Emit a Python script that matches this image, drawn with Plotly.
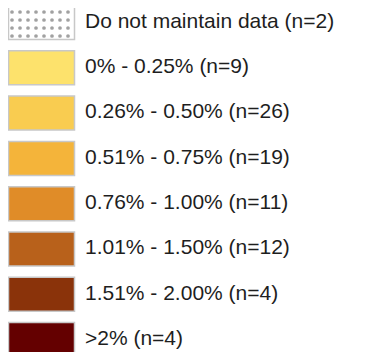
import plotly.graph_objects as go

labels = [
    "Do not maintain data (n=2)",
    "0% - 0.25% (n=9)",
    "0.26% - 0.50% (n=26)",
    "0.51% - 0.75% (n=19)",
    "0.76% - 1.00% (n=11)",
    "1.01% - 1.50% (n=12)",
    "1.51% - 2.00% (n=4)",
    ">2% (n=4)",
]
colors = ["#FFFFFF", "#FDE26C", "#F9CC50", "#F4B43A", "#E08C28", "#B8611B", "#8A330A", "#640000"]
rows = list(range(len(labels)))
swatch_len = [1] * len(labels)
label_x = [1.159] * len(labels)

fig = go.Figure()
fig.add_trace(go.Bar(
    x=swatch_len, y=rows, orientation="h", width=0.75, cliponaxis=False,
    marker=dict(
        color=colors,
        line=dict(color="#C8C8C8", width=1.5),
        pattern=dict(
            shape=["."] + [""] * (len(labels) - 1),
            fgcolor="#000000", bgcolor="#FFFFFF", size=8, solidity=0.17,
        ),
    ),
    hoverinfo="skip",
))
fig.add_trace(go.Scatter(
    x=label_x, y=rows, mode="text", text=labels, textposition="middle right",
    textfont=dict(family="Liberation Sans, Arial, sans-serif", size=21, color="#1E1E1E"),
    hoverinfo="skip", cliponaxis=False,
))
fig.update_layout(
    width=360, height=344, margin=dict(l=0, r=0, t=0, b=0),
    paper_bgcolor="white", plot_bgcolor="white", showlegend=False,
    xaxis=dict(range=[-0.0076, 5.447], visible=False, fixedrange=True),
    yaxis=dict(range=[7.274, -0.320], visible=False, fixedrange=True),
)
fig.write_html("out.html")
